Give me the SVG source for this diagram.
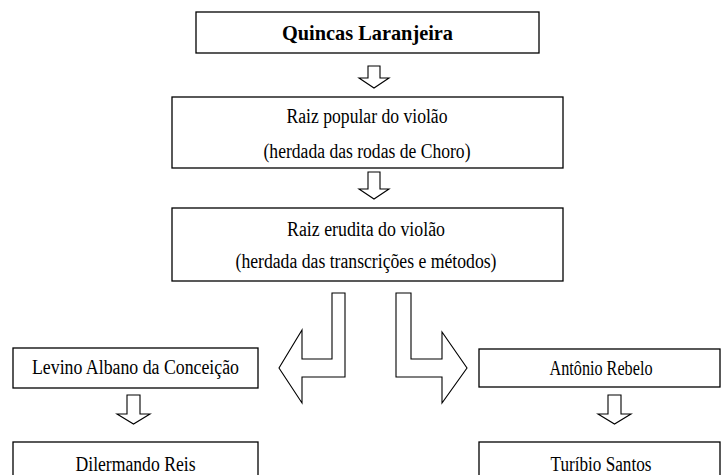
<svg xmlns="http://www.w3.org/2000/svg" width="721" height="475" viewBox="0 0 721 475">
<style>
.box{fill:#fff;stroke:#000;stroke-width:1.3}
.arr{fill:#fff;stroke:#000;stroke-width:1.1;stroke-linejoin:miter}
text{font-family:'Liberation Serif','DejaVu Serif',serif;font-size:20px;fill:#000;text-anchor:middle}
.b{font-weight:bold;font-size:22px}
</style>
<rect width="721" height="475" fill="#fff"/>
<g id="connectors">
<polygon class="arr" points="368,66 380,66 380,78 389,78 374,88 359,78 368,78"/>
<polygon class="arr" points="368,172 380,172 380,189 389,189 374,199 359,189 368,189"/>
<polygon class="arr" points="332,293 345,293 345,377 302,377 302,403 279,368 302,330 302,359 332,359"/>
<polygon class="arr" points="396,293 411,293 411,359 442,359 442,332 467,368 442,403 442,377 396,377"/>
<polygon class="arr" points="127,395 140,395 140,414 150,414 133.5,424 117,414 127,414"/>
<polygon class="arr" points="608,395 621,395 621,414 631,414 614.5,424 598,414 608,414"/>
</g>
<g id="n1"><rect class="box" x="196" y="12" width="343" height="41"/><text class="b" x="367.5" y="40" textLength="171" lengthAdjust="spacingAndGlyphs">Quincas Laranjeira</text></g>
<g id="n2"><rect class="box" x="172" y="97" width="391" height="71"/><text x="367" y="123" textLength="161" lengthAdjust="spacingAndGlyphs">Raiz popular do violão</text><text x="367" y="158" textLength="207" lengthAdjust="spacingAndGlyphs">(herdada das rodas de Choro)</text></g>
<g id="n3"><rect class="box" x="172" y="208" width="391" height="73"/><text x="366" y="236" textLength="158" lengthAdjust="spacingAndGlyphs">Raiz erudita do violão</text><text x="366" y="268" textLength="261" lengthAdjust="spacingAndGlyphs">(herdada das transcrições e métodos)</text></g>
<g id="n4"><rect class="box" x="13" y="348" width="245" height="40"/><text x="135.5" y="374" textLength="207" lengthAdjust="spacingAndGlyphs">Levino Albano da Conceição</text></g>
<g id="n5"><rect class="box" x="479" y="349" width="241" height="38"/><text x="601" y="375" textLength="103" lengthAdjust="spacingAndGlyphs">Antônio Rebelo</text></g>
<g id="n6"><rect class="box" x="13" y="442" width="245" height="40"/><text x="135.5" y="471" textLength="120" lengthAdjust="spacingAndGlyphs">Dilermando Reis</text></g>
<g id="n7"><rect class="box" x="479" y="442" width="241" height="40"/><text x="601" y="471" textLength="101" lengthAdjust="spacingAndGlyphs">Turíbio Santos</text></g>
</svg>
